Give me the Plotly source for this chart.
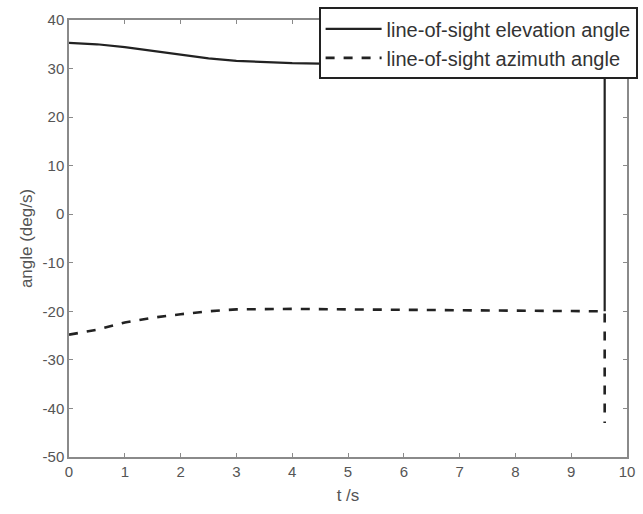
import plotly.graph_objects as go

t_elev = [0, 0.5, 1, 1.5, 2, 2.5, 3, 3.5, 4, 4.5, 5, 6, 7, 8, 9, 9.6, 9.6]
elev = [35.3, 35.0, 34.4, 33.6, 32.8, 32.1, 31.6, 31.3, 31.1, 31.0, 30.9, 30.8, 30.7, 30.6, 30.6, 30.6, -20.0]

t_azi = [0, 0.5, 1, 1.5, 2, 2.5, 3, 3.5, 4, 5, 6, 7, 8, 9, 9.6, 9.6]
azi = [-24.8, -23.8, -22.3, -21.3, -20.6, -20.0, -19.6, -19.5, -19.5, -19.6, -19.7, -19.8, -19.9, -20.0, -20.0, -43.0]

x_ticks = list(range(0, 11))
x_labels = [str(v) for v in x_ticks]
y_ticks = list(range(-50, 41, 10))
y_labels = [str(v) for v in y_ticks]  # plain hyphen minus like the reference

fig = go.Figure()
fig.add_trace(go.Scatter(x=t_elev, y=elev, mode="lines", name="line-of-sight elevation angle",
                         line=dict(color="#222222", width=2.2)))
fig.add_trace(go.Scatter(x=t_azi, y=azi, mode="lines", name="line-of-sight azimuth angle",
                         line=dict(color="#222222", width=2.6, dash="dash")))

axis_common = dict(showgrid=False, zeroline=False, showline=True, mirror="ticks",
                   linecolor="#8a8a8a", linewidth=1.5, ticks="inside", ticklen=4,
                   tickcolor="#8a8a8a", tickfont=dict(size=15, color="#555555"))

fig.update_layout(
    width=643, height=514,
    margin=dict(l=69, r=16, t=20, b=57, autoexpand=False),
    paper_bgcolor="white", plot_bgcolor="white",
    font=dict(family="Liberation Sans, Arial, sans-serif", color="#555555"),
    xaxis=dict(range=[0, 10], tickvals=x_ticks, ticktext=x_labels,
               title=dict(text="t /s", font=dict(size=17), standoff=10),
               **axis_common),
    yaxis=dict(range=[-50, 40], tickvals=y_ticks, ticktext=y_labels,
               title=dict(text="angle (deg/s)", font=dict(size=17), standoff=6),
               **axis_common),
    legend=dict(x=1.019, y=1.029, xanchor="right", yanchor="top",
                bgcolor="white", bordercolor="#222222", borderwidth=2,
                font=dict(size=20, color="#333333"), tracegroupgap=0, itemwidth=56),
    showlegend=True,
)

fig.write_html("out.html")
